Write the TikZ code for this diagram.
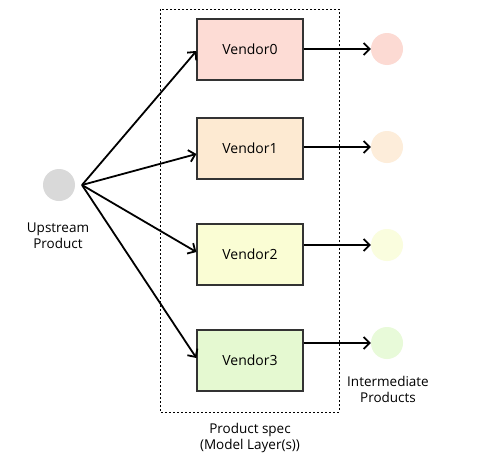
\documentclass[tikz,border=0pt]{standalone}
\usepackage{fontspec}
\setmainfont{Open Sans}
\usetikzlibrary{arrows.meta}
\definecolor{v0}{HTML}{FDDCD5}
\definecolor{v1}{HTML}{FDEAD2}
\definecolor{v2}{HTML}{FAFDD4}
\definecolor{v3}{HTML}{E5F9D1}
\definecolor{o0}{HTML}{FCDAD3}
\definecolor{o1}{HTML}{FDEDDA}
\definecolor{o2}{HTML}{FAFDDE}
\definecolor{o3}{HTML}{E8FAD9}
\begin{document}
\begin{tikzpicture}[x=1pt,y=-1pt,
  vbox/.style={draw=black!80, line width=1.2pt, minimum width=106pt, minimum height=61pt, inner sep=0pt, font=\fontsize{14}{16}\selectfont},
  dot/.style={circle, minimum size=32pt, inner sep=0pt},
  conn/.style={line width=1.8pt, -{Straight Barb[length=6pt,width=12pt]}},
  lbl/.style={align=center, font=\fontsize{13.5}{16}\selectfont}]
\useasboundingbox (0,0) rectangle (481,463);
\fill[white] (0,0) rectangle (481,463);
\draw[dashed, dash pattern=on 2pt off 2pt, line width=1pt] (160,9) rectangle (339,412);
\node[vbox, fill=v0] (a) at (250,49.5) {Vendor0};
\node[vbox, fill=v1] (b) at (250,148.5) {Vendor1};
\node[vbox, fill=v2] (c) at (250,254.5) {Vendor2};
\node[vbox, fill=v3] (d) at (250,360.5) {Vendor3};
\node[dot, fill=black!15] (u) at (59,185) {};
\node[lbl] (ul) at (58,235.5) {Upstream\\Product};
\node[dot, fill=o0] (p0) at (387,49) {};
\node[dot, fill=o1] (p1) at (387,147) {};
\node[dot, fill=o2] (p2) at (387,245) {};
\node[dot, fill=o3] (p3) at (387,343) {};
\node[lbl] (pl) at (388,389) {Intermediate\\Products};
\node[lbl] (sl) at (250,437.5) {Product spec\\(Model Layer(s))};
\coordinate (s) at (82,185);
\draw[conn] (s) -- (a.west |- 0,51);
\draw[conn] (s) -- (b.west |- 0,154);
\draw[conn] (s) -- (c.west |- 0,252);
\draw[conn] (s) -- (d.west |- 0,358);
\draw[conn] (a.east |- p0) -- (p0.west);
\draw[conn] (b.east |- p1) -- (p1.west);
\draw[conn] (c.east |- p2) -- (p2.west);
\draw[conn] (d.east |- p3) -- (p3.west);
\end{tikzpicture}
\end{document}
